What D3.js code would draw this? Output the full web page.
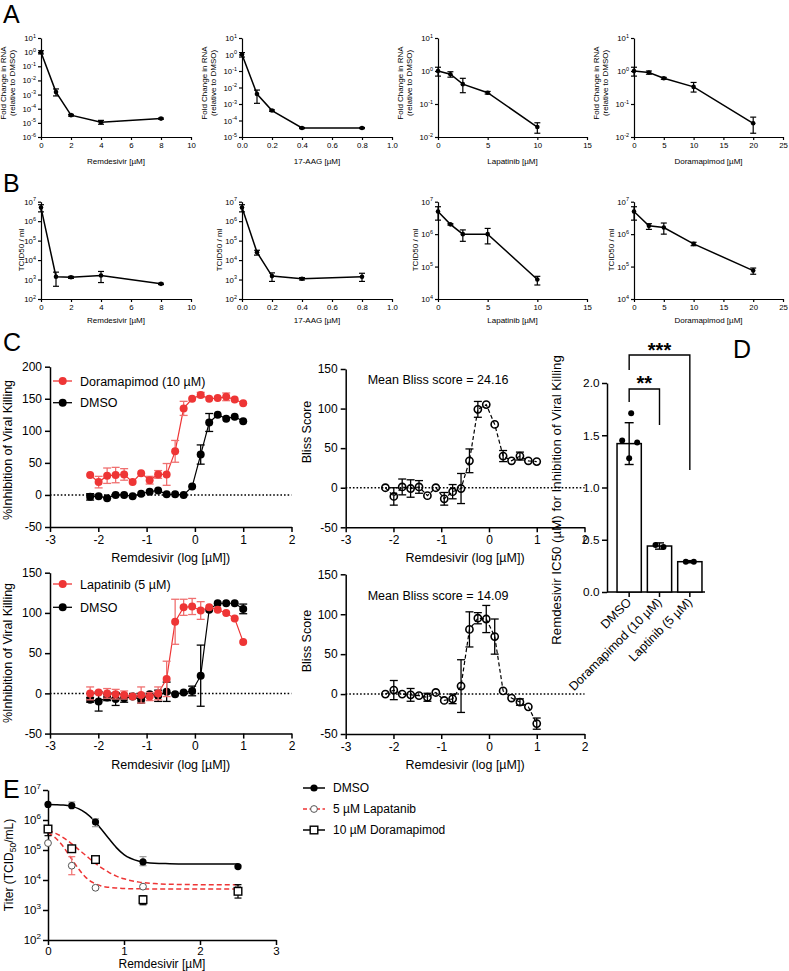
<!DOCTYPE html>
<html><head><meta charset="utf-8">
<script src="https://cdn.jsdelivr.net/npm/d3@7"></script>
<style>body{margin:0;background:#fff}svg{display:block}text{font-family:Arial,"Liberation Sans",Helvetica,sans-serif;fill:#000}</style>
</head><body><svg id="c" width="789" height="971"></svg>
<script>
// ---------- DATA ----------
// Panel A: fold change in RNA
const aRemX=[0,1,2,4,8], aRemY=[1,1.5e-3,3.5e-5,1.1e-5,2e-5], aRemLo=[0.75,8e-4,3e-5,8e-6,1.8e-5], aRemHi=[1.25,2.5e-3,4e-5,1.5e-5,2.2e-5];
const aAagX=[0,0.1,0.2,0.4,0.8], aAagY=[1,4e-3,4e-4,3.5e-5,3.5e-5], aAagLo=[0.7,1.1e-3,3.6e-4,3.2e-5,3.2e-5], aAagHi=[1.3,7e-3,4.4e-4,3.8e-5,3.8e-5];
const aLapX=[0,1.25,2.5,5,10], aLapY=[1.0,0.8,0.4,0.22,0.02], aLapLo=[0.7,0.65,0.22,0.2,0.013], aLapHi=[1.3,0.95,0.6,0.24,0.027];
const aDorX=[0,2.5,5,10,20], aDorY=[1.0,0.9,0.6,0.33,0.026], aDorLo=[0.7,0.8,0.56,0.23,0.013], aDorHi=[1.3,1.0,0.64,0.45,0.04];
// Panel B: TCID50 / ml
const bRemY=[5e6,1.4e3,1.3e3,1.6e3,6e2], bRemLo=[3e6,4.5e2,1.15e3,7e2,5.5e2], bRemHi=[7e6,2.4e3,1.45e3,2.6e3,6.5e2];
const bAagY=[5e6,2.5e4,1.5e3,1.1e3,1.4e3], bAagLo=[3e6,1.8e4,8e2,9.5e2,8e2], bAagHi=[7e6,3.2e4,2.2e3,1.25e3,2.1e3];
const bLapY=[5e6,2e6,1e6,1e6,4e4], bLapLo=[2.7e6,1.9e6,6e5,5e5,2.7e4], bLapHi=[7e6,2.1e6,1.35e6,1.5e6,5e4];
const bDorY=[5e6,1.8e6,1.6e6,5e5,7.5e4], bDorLo=[2.7e6,1.4e6,1e6,4.4e5,5.8e4], bDorHi=[7e6,2.1e6,2.2e6,5.6e5,9e4];
// Panel C: log dose of remdesivir
const cLogDose=[-2.169,-1.993,-1.817,-1.641,-1.465,-1.289,-1.113,-0.937,-0.761,-0.585,-0.409,-0.233,-0.057,0.120,0.296,0.472,0.648,0.824,1.0];
const cDoraY=[31,20,30,31,32,20,34,23,32,32,68,135,150,156,150,151,153,149,143];
const cDoraErr=[0,9,12,12,9,0,0,6,6,17,17,11,0,4,0,0,6,0,0];
const cDmso1Y=[-3,-2,-5,0,0,-2,2,5,7,1,1,0,13,63,113,125,119,122,115];
const cDmso1Err=[5,0,0,0,0,0,0,0,0,0,0,0,0,15,14,0,0,0,0];
const cBliss1Y=[0,-11,1,-1,1,-10,0,-14,-5,-1,34,99,105,80,40,34,40,34,33];
const cBliss1Err=[0,11,10,11,8,0,0,8,9,19,15,10,0,0,7,0,5,0,0];
const cLapaY=[0,1,0,-1,-2,-4,-2,-4,0,18,89,107,108,103,107,104,100,93,64];
const cLapaErr=[8,0,6,6,5,0,10,5,8,22,28,10,10,11,0,0,0,0,0];
const cDmso2Y=[-8,-10,-5,-7,-6,-4,-8,-1,-3,2,-1,1,3,22,104,112,112,112,105];
const cDmso2Err=[3,12,4,8,5,0,4,0,7,12,0,0,6,38,0,0,0,0,6];
const cBliss2Y=[0,5,0,-1,-2,-4,2,-8,-6,10,81,95,94,72,4,-5,-10,-16,-37];
const cBliss2Err=[0,12,0,8,0,5,0,0,6,33,22,7,17,22,0,0,4,0,7];
const cMeanBliss=["24.16","14.09"];
// Panel D
const dNames=["DMSO","Doramapimod (10 µM)","Laptinib (5 µM)"];
const dMean=[1.42,0.44,0.29], dSD=[0.2,0.03,0.01];
const dPoints=[[1.71,1.45,1.43,1.28],[0.45,0.43],[0.29,0.29]];
const dStars=["**","***"];
// Panel E
const eDose=[0,0.3125,0.625,1.25,2.5];
const eDmso=[3.3e6,3.0e6,8.5e5,4e4,2.8e4], eDmsoLo=[3.3e6,3.0e6,6e5,3e4,2.5e4], eDmsoHi=[3.3e6,4e6,1.1e6,6e4,3.1e4];
const eLapa=[1.7e5,3e4,5.5e3,6e3,5e3], eLapaLo=[1.7e5,1.5e4,5.5e3,6e3,5e3], eLapaHi=[1.7e5,6e4,5.5e3,6e3,5e3];
const eDora=[5e5,1.1e5,4.8e4,2.2e3,4.2e3], eDoraLo=[3e5,1.1e5,4.8e4,1.5e3,2.5e3], eDoraHi=[6e5,1.1e5,4.8e4,3e3,7e3];
const eFitX=[0,0.1,0.2,0.3,0.4,0.5,0.6,0.7,0.8,0.9,1.0,1.2,1.4,1.6,2.0,2.5];
const eFitDmso=[3.3e6,3.25e6,3.15e6,2.9e6,2.4e6,1.7e6,1.0e6,5e5,2.4e5,1.2e5,7e4,4.2e4,3.6e4,3.5e4,3.4e4,3.4e4];
const eFitLapa=[3.8e5,2.5e5,1.3e5,5.5e4,2.4e4,1.2e4,8e3,6.3e3,5.7e3,5.4e3,5.2e3,5.1e3,5e3,5e3,5e3,5e3];
const eFitDora=[4.5e5,3.6e5,2.6e5,1.7e5,1.05e5,6.5e4,4e4,2.6e4,1.8e4,1.35e4,1.1e4,8.5e3,7.6e3,7.2e3,7e3,7e3];

// ---------- DRAW ----------
const svg=d3.select('#c');
const FONT='Arial, "Liberation Sans", Helvetica, sans-serif';
const RED='#ee3535', RED_ERR='#f07070';

function styleAxis(g,sw,fs){
  g.attr('font-family',FONT);
  g.select('.domain').attr('stroke','#000').attr('stroke-width',sw);
  g.selectAll('.tick line').attr('stroke','#000').attr('stroke-width',sw);
  g.selectAll('.tick text').attr('font-size',fs).attr('fill','#000');
}
function supTicks(g,fs){
  g.selectAll('.tick text').each(function(d){
    const t=d3.select(this), e=Math.round(Math.log10(d));
    t.text(null);
    t.append('tspan').text('10');
    t.append('tspan').attr('font-size',fs*0.7).attr('dy',-fs*0.45).text(e);
  });
}
function letter(s,x,y){svg.append('text').attr('x',x).attr('y',y).attr('font-size',25).text(s);}
function errBar(g,x,y1,y2,w,color,sw){
  if(Math.abs(y1-y2)<0.5) return;
  g.append('line').attr('x1',x).attr('x2',x).attr('y1',y1).attr('y2',y2).attr('stroke',color).attr('stroke-width',sw);
  [y1,y2].forEach(yy=>g.append('line').attr('x1',x-w/2).attr('x2',x+w/2).attr('y1',yy).attr('y2',yy).attr('stroke',color).attr('stroke-width',sw));
}

const E_TOP=790, E_BOT=940;
letter('A',3,23); letter('B',3,192); letter('C',3,351); letter('D',733,358); letter('E',3,E_TOP+8);

function smallPlot(o){
  const x=d3.scaleLinear().domain(o.xd).range([o.x0,o.x1]);
  const y=d3.scaleLog().domain(o.yd).range([o.yb,o.yt]);
  const g=svg.append('g');
  const xa=g.append('g').attr('transform',`translate(0,${o.yb})`)
    .call(d3.axisBottom(x).tickValues(o.xt).tickFormat(o.xf).tickSize(3).tickSizeOuter(0).tickPadding(2));
  styleAxis(xa,1.2,7.8);
  const exps=d3.range(Math.round(Math.log10(o.yd[0])),Math.round(Math.log10(o.yd[1]))+1);
  const ya=g.append('g').attr('transform',`translate(${o.x0},0)`)
    .call(d3.axisLeft(y).tickValues(exps.map(e=>Math.pow(10,e))).tickSize(3).tickSizeOuter(0).tickPadding(2));
  styleAxis(ya,1.2,7.8); supTicks(ya,7.8);
  g.append('text').attr('x',(o.x0+o.x1)/2).attr('y',o.yb+o.tOff).attr('text-anchor','middle').attr('font-size',8).text(o.xTitle);
  o.yTitle.forEach((s,i)=>g.append('text').attr('transform',`translate(${o.ytx+i*8.5},${o.ytc}) rotate(-90)`)
    .attr('text-anchor','middle').attr('font-size',8).text(s));
  const pts=o.xs.map((v,i)=>[x(v),y(o.ys[i])]);
  g.append('path').attr('d',d3.line()(pts)).attr('fill','none').attr('stroke','#000').attr('stroke-width',1.5);
  o.xs.forEach((v,i)=>errBar(g,x(v),y(o.lo[i]),y(o.hi[i]),6,'#000',1.2));
  g.selectAll(null).data(pts).join('circle').attr('cx',d=>d[0]).attr('cy',d=>d[1]).attr('r',2.3).attr('fill','#000');
}
const fmtInt=d3.format('d'), fmt1=d3.format('.1f');
const colX=[41,242,438,634], colX1=[191,392,587,783];
const yTitleA=['Fold Change in RNA','(relative to DMSO)'];
const aSets=[
  {xs:aRemX,ys:aRemY,lo:aRemLo,hi:aRemHi,xd:[0,10],xt:[0,2,4,6,8,10],xf:fmtInt,yd:[1e-6,1e1],xTitle:'Remdesivir [µM]',ytx:6},
  {xs:aAagX,ys:aAagY,lo:aAagLo,hi:aAagHi,xd:[0,1],xt:[0,0.2,0.4,0.6,0.8,1.0],xf:fmt1,yd:[1e-5,1e1],xTitle:'17-AAG [µM]',ytx:207},
  {xs:aLapX,ys:aLapY,lo:aLapLo,hi:aLapHi,xd:[0,15],xt:[0,5,10,15],xf:fmtInt,yd:[1e-2,1e1],xTitle:'Lapatinib [µM]',ytx:403},
  {xs:aDorX,ys:aDorY,lo:aDorLo,hi:aDorHi,xd:[0,25],xt:[0,5,10,15,20,25],xf:fmtInt,yd:[1e-2,1e1],xTitle:'Doramapimod [µM]',ytx:599}
];
aSets.forEach((s,i)=>smallPlot(Object.assign({},s,{x0:colX[i],x1:colX1[i],yt:38,yb:137,tOff:27,yTitle:yTitleA,ytc:83})));
const bSets=[
  {xs:aRemX,ys:bRemY,lo:bRemLo,hi:bRemHi,xd:[0,10],xt:[0,2,4,6,8,10],xf:fmtInt,yd:[1e2,1e7],xTitle:'Remdesivir [µM]',ytx:24},
  {xs:aAagX,ys:bAagY,lo:bAagLo,hi:bAagHi,xd:[0,1],xt:[0,0.2,0.4,0.6,0.8,1.0],xf:fmt1,yd:[1e2,1e7],xTitle:'17-AAG [µM]',ytx:222},
  {xs:aLapX,ys:bLapY,lo:bLapLo,hi:bLapHi,xd:[0,15],xt:[0,5,10,15],xf:fmtInt,yd:[1e4,1e7],xTitle:'Lapatinib [µM]',ytx:418},
  {xs:aDorX,ys:bDorY,lo:bDorLo,hi:bDorHi,xd:[0,25],xt:[0,5,10,15,20,25],xf:fmtInt,yd:[1e4,1e7],xTitle:'Doramapimod [µM]',ytx:614}
];
bSets.forEach((s,i)=>smallPlot(Object.assign({},s,{x0:colX[i],x1:colX1[i],yt:201.7,yb:299,tOff:24,yTitle:['TCID50 / ml'],ytc:250})));

// ---------- Panel C ----------
function dosePlot(o){
  const x=d3.scaleLinear().domain([-3,2]).range([o.x0,o.x1]);
  const y=d3.scaleLinear().domain(o.yd).range([o.yb,o.yt]);
  const g=svg.append('g');
  const xa=g.append('g').attr('transform',`translate(0,${o.yb})`)
    .call(d3.axisBottom(x).tickValues([-3,-2,-1,0,1,2]).tickFormat(d=>String(d)).tickSize(5).tickSizeOuter(0).tickPadding(3));
  styleAxis(xa,1.5,12);
  const ya=g.append('g').attr('transform',`translate(${o.x0},0)`)
    .call(d3.axisLeft(y).tickValues(d3.range(o.yd[0],o.yd[1]+1,50)).tickFormat(d=>String(d)).tickSize(5).tickSizeOuter(0).tickPadding(3));
  styleAxis(ya,1.5,12);
  g.append('line').attr('x1',x(-3)).attr('x2',x(2)).attr('y1',y(0)).attr('y2',y(0))
    .attr('stroke','#000').attr('stroke-width',1.5).attr('stroke-dasharray','1.6,2');
  g.append('text').attr('x',(o.x0+o.x1)/2).attr('y',o.yb+35).attr('text-anchor','middle').attr('font-size',12.5).text('Remdesivir (log [µM])');
  g.append('text').attr('transform',`translate(${o.ytx},${o.ytc}) rotate(-90)`).attr('text-anchor','middle').attr('font-size',12.5).text(o.yTitle);
  o.series.forEach(s=>{
    const pts=cLogDose.map((v,i)=>[x(v),y(s.ys[i])]);
    const p=g.append('path').attr('d',d3.line()(pts)).attr('fill','none').attr('stroke',s.color).attr('stroke-width',1.2);
    if(s.open) p.attr('stroke-dasharray','4,2.5');
    cLogDose.forEach((v,i)=>errBar(g,x(v),y(s.ys[i]-s.err[i]),y(s.ys[i]+s.err[i]),8,s.errColor,1.3));
    g.selectAll(null).data(pts).join('circle').attr('cx',d=>d[0]).attr('cy',d=>d[1]).attr('r',s.open?3.6:4)
      .attr('fill',s.open?'none':s.color).attr('stroke',s.color).attr('stroke-width',s.open?1.6:0);
  });
  if(o.legend){
    o.legend.forEach((l,i)=>{
      const ly=o.legY[i];
      g.append('line').attr('x1',53).attr('x2',72).attr('y1',ly).attr('y2',ly).attr('stroke',l.color).attr('stroke-width',1.3);
      g.append('circle').attr('cx',62.7).attr('cy',ly).attr('r',4).attr('fill',l.color);
      g.append('text').attr('x',80).attr('y',ly+4.5).attr('font-size',12.5).text(l.name);
    });
  }
  if(o.note){
    g.append('text').attr('x',438).attr('y',o.noteY).attr('text-anchor','middle').attr('font-size',12.5).text(o.note);
  }
}
dosePlot({x0:50,x1:291.5,yd:[-50,200],yb:527,yt:366.7,yTitle:'%Inhibition of Viral Killing',ytx:12,ytc:450,
  series:[{ys:cDmso1Y,err:cDmso1Err,color:'#000',errColor:'#000'},{ys:cDoraY,err:cDoraErr,color:RED,errColor:RED_ERR}],
  legend:[{name:'Doramapimod (10 µM)',color:RED},{name:'DMSO',color:'#000'}],legY:[381,402.7]});
dosePlot({x0:50,x1:291.5,yd:[-50,150],yb:733.6,yt:572.7,yTitle:'%Inhibition of Viral Killing',ytx:12,ytc:653,
  series:[{ys:cDmso2Y,err:cDmso2Err,color:'#000',errColor:'#000'},{ys:cLapaY,err:cLapaErr,color:RED,errColor:RED_ERR}],
  legend:[{name:'Lapatinib (5 µM)',color:RED},{name:'DMSO',color:'#000'}],legY:[584,607.3]});
dosePlot({x0:345.7,x1:584.5,yd:[-50,150],yb:527.3,yt:369,yTitle:'Bliss Score',ytx:311,ytc:432,
  series:[{ys:cBliss1Y,err:cBliss1Err,color:'#000',errColor:'#000',open:true}],note:'Mean Bliss score = '+cMeanBliss[0],noteY:383.5});
dosePlot({x0:345.7,x1:584.5,yd:[-50,150],yb:734,yt:574.3,yTitle:'Bliss Score',ytx:311,ytc:641,
  series:[{ys:cBliss2Y,err:cBliss2Err,color:'#000',errColor:'#000',open:true}],note:'Mean Bliss score = '+cMeanBliss[1],noteY:599.5});

// ---------- Panel D ----------
(function(){
  const g=svg.append('g');
  const x=d3.scaleBand().domain(dNames).range([614,705]).padding(0);
  const y=d3.scaleLinear().domain([0,2]).range([592,383]);
  const ya=g.append('g').attr('transform','translate(607,0)')
    .call(d3.axisLeft(y).tickValues([0,0.5,1,1.5,2]).tickFormat(d3.format('.1f')).tickSize(5).tickSizeOuter(0).tickPadding(2.5));
  styleAxis(ya,1.5,11.8);
  g.append('line').attr('x1',607).attr('x2',705).attr('y1',592).attr('y2',592).attr('stroke','#000').attr('stroke-width',1.5);
  const bw=x.bandwidth()*0.8;
  dNames.forEach((n,i)=>{
    const cx=x(n)+x.bandwidth()/2;
    g.append('rect').attr('x',cx-bw/2).attr('y',y(dMean[i])).attr('width',bw).attr('height',592-y(dMean[i]))
      .attr('fill','#fff').attr('stroke','#000').attr('stroke-width',1.5);
    g.append('line').attr('x1',cx).attr('x2',cx).attr('y1',592).attr('y2',597).attr('stroke','#000').attr('stroke-width',1.5);
    errBar(g,cx,y(dMean[i]-dSD[i]),y(dMean[i]+dSD[i]),9,'#000',1.4);
    const offs=dPoints[i].length===4?[2,-7,8,0]:[-4,4];
    dPoints[i].forEach((v,j)=>g.append('circle').attr('cx',cx+offs[j]).attr('cy',y(v)).attr('r',3).attr('fill','#000'));
    g.append('text').attr('transform',`translate(${cx+3},${603}) rotate(-45)`).attr('text-anchor','end').attr('font-size',12.5).text(n);
  });
  g.append('text').attr('transform','translate(561,500) rotate(-90)').attr('text-anchor','middle').attr('font-size',13.3)
    .text('Remdesivir IC50 (µM) for Inhibition of Viral Killing');
  const c0=x(dNames[0])+x.bandwidth()/2, c1=x(dNames[1])+x.bandwidth()/2, c2=x(dNames[2])+x.bandwidth()/2;
  g.append('path').attr('d',`M${c0},402 V389 H${c1} V425`).attr('fill','none').attr('stroke','#000').attr('stroke-width',1.4);
  g.append('text').attr('x',(c0+c1)/2).attr('y',390).attr('text-anchor','middle').attr('font-size',20).attr('font-weight','bold').text(dStars[0]);
  g.append('path').attr('d',`M${c0},370 V355 H${c2} V470`).attr('fill','none').attr('stroke','#000').attr('stroke-width',1.4);
  g.append('text').attr('x',(c0+c2)/2).attr('y',357).attr('text-anchor','middle').attr('font-size',20).attr('font-weight','bold').text(dStars[1]);
})();

// ---------- Panel E ----------
(function(){
  const g=svg.append('g');
  const x=d3.scaleLinear().domain([0,3]).range([48,276]);
  const y=d3.scaleLog().domain([1e2,1e7]).range([E_BOT,E_TOP]);
  const xa=g.append('g').attr('transform',`translate(0,${E_BOT})`)
    .call(d3.axisBottom(x).tickValues([0,1,2,3]).tickFormat(d3.format('d')).tickSize(5).tickSizeOuter(0).tickPadding(2));
  styleAxis(xa,1.5,11.5);
  const ya=g.append('g').attr('transform','translate(48,0)')
    .call(d3.axisLeft(y).tickValues([1e2,1e3,1e4,1e5,1e6,1e7]).tickSize(5).tickSizeOuter(0).tickPadding(2));
  styleAxis(ya,1.5,11.5); supTicks(ya,11.5);
  g.append('text').attr('x',162).attr('y',E_BOT+28).attr('text-anchor','middle').attr('font-size',12).text('Remdesivir [µM]');
  const yt=g.append('text').attr('transform',`translate(13,${(E_TOP+E_BOT)/2}) rotate(-90)`).attr('text-anchor','middle').attr('font-size',12);
  yt.append('tspan').text('Titer (TCID');
  yt.append('tspan').attr('font-size',8.5).attr('dy',3).text('50');
  yt.append('tspan').attr('dy',-3).text('/mL)');
  const line=d3.line().curve(d3.curveMonotoneX);
  const fits=[[eFitDmso,'#000',null],[eFitLapa,RED,'5,3'],[eFitDora,RED,'5,3']];
  fits.forEach(f=>{
    const p=g.append('path').attr('d',line(eFitX.map((v,i)=>[x(v),y(f[0][i])]))).attr('fill','none').attr('stroke',f[1]).attr('stroke-width',1.5);
    if(f[2]) p.attr('stroke-dasharray',f[2]);
  });
  const sets=[[eDmso,eDmsoLo,eDmsoHi,'circle-fill','#000','#999'],[eLapa,eLapaLo,eLapaHi,'circle-open',RED,RED_ERR],[eDora,eDoraLo,eDoraHi,'square','#000','#000']];
  sets.forEach(s=>{
    eDose.forEach((v,i)=>errBar(g,x(v),y(s[1][i]),y(s[2][i]),7,s[5],1.2));
    eDose.forEach((v,i)=>{
      const cx=x(v), cy=y(s[0][i]);
      if(s[3]==='circle-fill') g.append('circle').attr('cx',cx).attr('cy',cy).attr('r',3.6).attr('fill','#000');
      else if(s[3]==='circle-open') g.append('circle').attr('cx',cx).attr('cy',cy).attr('r',3.4).attr('fill','#fff').attr('stroke','#555').attr('stroke-width',1);
      else g.append('rect').attr('x',cx-3.8).attr('y',cy-3.8).attr('width',7.6).attr('height',7.6).attr('fill','#fff').attr('stroke','#000').attr('stroke-width',1.4);
    });
  });
  const leg=[['DMSO','#000',null,'circle-fill'],['5 µM Lapatanib',RED,'4,2.5','circle-open'],['10 µM Doramapimod','#000',null,'square']];
  const legY=[E_TOP-2,E_TOP+19,E_TOP+40];
  leg.forEach((l,i)=>{
    const ly=legY[i];
    const ln=g.append('line').attr('x1',303).attr('x2',325).attr('y1',ly).attr('y2',ly).attr('stroke',l[1]).attr('stroke-width',1.5);
    if(l[2]) ln.attr('stroke-dasharray',l[2]);
    if(l[3]==='circle-fill') g.append('circle').attr('cx',314).attr('cy',ly).attr('r',3.6).attr('fill','#000');
    else if(l[3]==='circle-open') g.append('circle').attr('cx',314).attr('cy',ly).attr('r',3.4).attr('fill','#fff').attr('stroke','#555').attr('stroke-width',1);
    else g.append('rect').attr('x',310.2).attr('y',ly-3.8).attr('width',7.6).attr('height',7.6).attr('fill','#fff').attr('stroke','#000').attr('stroke-width',1.4);
    g.append('text').attr('x',333).attr('y',ly+4.2).attr('font-size',12).text(l[0]);
  });
})();
</script></body></html>
